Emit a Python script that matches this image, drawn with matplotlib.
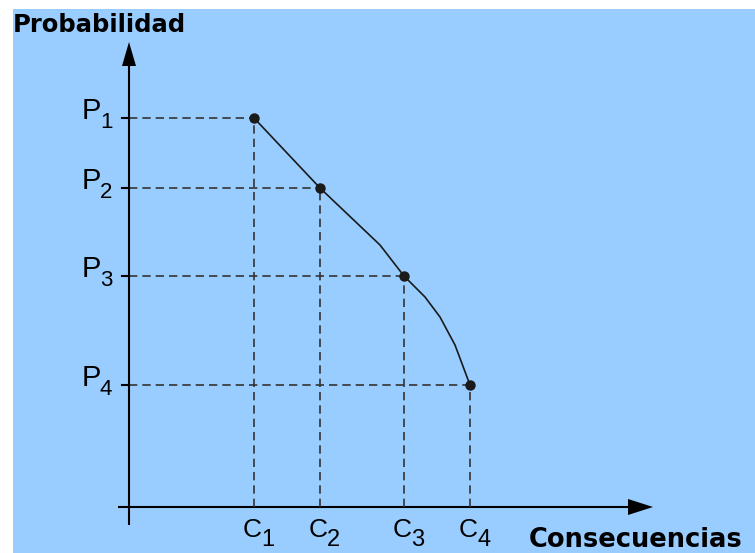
import numpy as np
import matplotlib
matplotlib.use('Agg')
import matplotlib.pyplot as plt
import matplotlib as mpl
mpl.rcParams['lines.scale_dashes'] = False

# values (origin at the axes crossing)
consecuencias = [125, 191, 275, 341]
probabilidades = [389, 319, 231, 122]
etiquetas_c = ['1', '2', '3', '4']
etiquetas_p = ['1', '2', '3', '4']
# points along the drawn curve
curva_x = [125, 191, 251, 275, 296, 311, 326, 341]
curva_y = [389, 319, 262, 231, 210, 190, 162, 122]

fondo = '#99CCFF'
fig = plt.figure(figsize=(7.55, 5.53), dpi=100)
fig.patch.set_facecolor('white')
ax = fig.add_axes([13/755., 0, 742/755., 544/553.])
ax.set_facecolor(fondo)
ax.set_xlim(-116, 626)
ax.set_ylim(-46, 498)
for s in ax.spines.values():
    s.set_visible(False)
ax.set_xticks([])
ax.set_yticks([])

# axes with arrows
ax.plot([0, 0], [-18, 441], color='black', lw=1.5, solid_capstyle='butt')
ax.plot([-11, 499], [0, 0], color='black', lw=1.5, solid_capstyle='butt')
ax.fill([-7, 7, 0], [441, 441, 465], color='black', lw=0)
ax.fill([499, 499, 524], [-8, 8, 0], color='black', lw=0)

# dashed guides
for c, p in zip(consecuencias, probabilidades):
    ax.plot([0, c], [p, p], color='#333333', lw=1.2, dashes=(6, 3.6))
    ax.plot([c, c], [0, p], color='#333333', lw=1.2, dashes=(6, 3.6))
    ax.plot([-7, 0], [p, p], color='black', lw=1.5)

ax.plot(curva_x, curva_y, color='#1a1a1a', lw=1.2)
ax.plot(consecuencias, probabilidades, 'o', color='#1a1a1a', ms=6.5)

# tick labels
for p, t in zip(probabilidades, etiquetas_p):
    ax.text(-47, p - 1, 'P', fontsize=21, family='Liberation Sans', ha='left', va='baseline')
    ax.text(-29, p - 10, t, fontsize=16, family='Liberation Sans', ha='left', va='baseline')
for c, t in zip(consecuencias, etiquetas_c):
    ax.text(c - 11, -30, 'C', fontsize=19, family='Liberation Sans', ha='left', va='baseline')
    ax.text(c + 7, -39, t, fontsize=17, family='Liberation Sans', ha='left', va='baseline')

ax.text(-116, 475, 'Probabilidad', fontsize=17.5, fontweight='bold', ha='left', va='baseline')
ax.text(400, -40, 'Consecuencias', fontsize=18.5, fontweight='bold', ha='left', va='baseline')

plt.savefig('out.png', dpi=100, facecolor=fig.get_facecolor())
